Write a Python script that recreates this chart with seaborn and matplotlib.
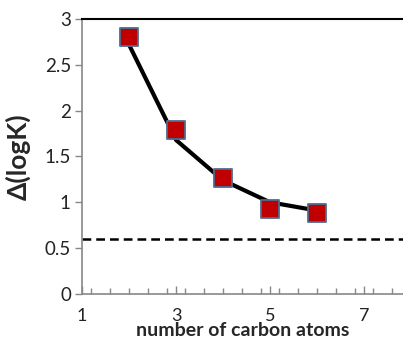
import matplotlib
matplotlib.use("Agg")
import matplotlib.pyplot as plt
import seaborn as sns
import pandas as pd
from matplotlib.ticker import MultipleLocator

carbons = [2, 3, 4, 5, 6]
dlogk = [2.80, 1.79, 1.27, 0.925, 0.88]
fit_x = [2, 3, 4, 5, 6]
fit_y = [2.72, 1.68, 1.24, 1.00, 0.91]
reference_level = 0.60

sns.set_theme(style="white")
plt.rcParams['font.family'] = ['Lato', 'DejaVu Sans']

fig = plt.figure(figsize=(4.03, 3.45), dpi=100)
ax = fig.add_axes([0.2035, 0.148, 0.7965, 0.797])

df_pts = pd.DataFrame({"x": carbons, "y": dlogk})
df_fit = pd.DataFrame({"x": fit_x, "y": fit_y})

sns.lineplot(data=df_fit, x="x", y="y", ax=ax, color="black", linewidth=3, zorder=2)
sns.scatterplot(data=df_pts, x="x", y="y", ax=ax, marker="s", s=150,
                color="#C00000", edgecolor="#4F6C8F", linewidth=1.3, zorder=3)
ax.axhline(reference_level, color="black", linestyle=(0, (3.5, 2)), linewidth=1.8, zorder=1)

ax.set_xlim(1, 7.83)
ax.set_ylim(0, 3)
ax.set_yticks([0, 0.5, 1, 1.5, 2, 2.5, 3])
ax.set_yticklabels(["0", "0.5", "1", "1.5", "2", "2.5", "3"])
ax.set_xticks([1, 3, 5, 7])
ax.set_xticklabels(["1", "3", "5", "7"])
ax.xaxis.set_minor_locator(MultipleLocator(0.4))

ax.tick_params(axis="x", which="both", direction="in", bottom=True, width=1, color="#888888",
               labelsize=13, labelcolor="#222222", pad=10)
ax.tick_params(axis="x", which="major", length=6)
ax.tick_params(axis="x", which="minor", length=4)
ax.tick_params(axis="y", which="major", direction="out", length=5, width=1, color="#888888",
               labelsize=13.5, labelcolor="#222222", left=True, pad=3)

for side in ["left", "bottom"]:
    ax.spines[side].set_color("#888888")
    ax.spines[side].set_linewidth(1.2)
ax.spines["top"].set_color("black")
ax.spines["top"].set_linewidth(1.5)
ax.spines["right"].set_visible(False)

ax.set_xlabel("number of carbon atoms", fontsize=14, fontweight="bold", labelpad=-1)
ax.set_ylabel("Δ(logK)", fontsize=19, fontweight="bold", labelpad=10)

fig.savefig("out.png", dpi=100)
